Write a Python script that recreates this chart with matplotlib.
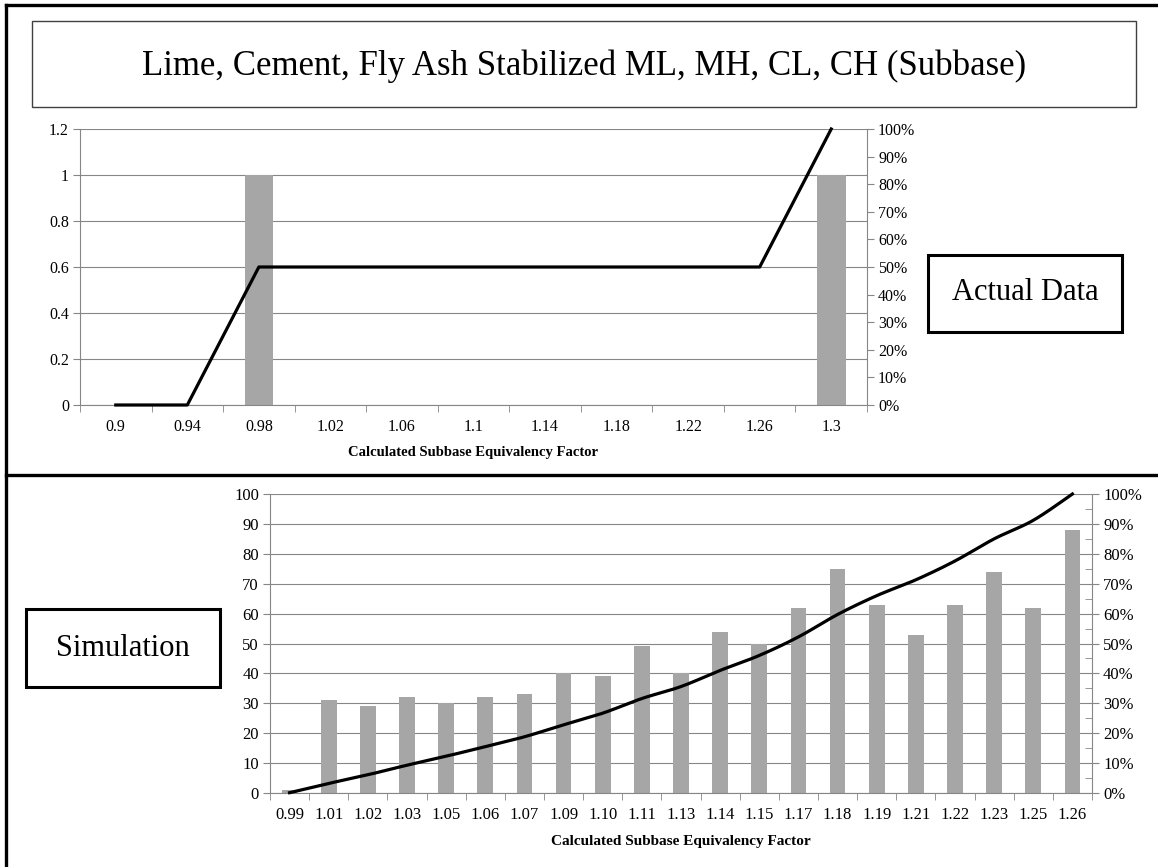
import numpy as np
import matplotlib
matplotlib.use("Agg")
import matplotlib.pyplot as plt
from matplotlib.patches import Rectangle
from matplotlib.lines import Line2D
from matplotlib.ticker import PercentFormatter, MultipleLocator

W, H = 1158, 867

title = "Lime, Cement, Fly Ash Stabilized ML, MH, CL, CH (Subbase)"
xlabel = "Calculated Subbase Equivalency Factor"

# actual data histogram
actual_bins = ["0.9", "0.94", "0.98", "1.02", "1.06", "1.1", "1.14",
               "1.18", "1.22", "1.26", "1.3"]
actual_counts = [0, 0, 1, 0, 0, 0, 0, 0, 0, 0, 1]

# simulation histogram
sim_bins = ["0.99", "1.01", "1.02", "1.03", "1.05", "1.06", "1.07", "1.09",
            "1.10", "1.11", "1.13", "1.14", "1.15", "1.17", "1.18", "1.19",
            "1.21", "1.22", "1.23", "1.25", "1.26"]
sim_counts = [1, 31, 29, 32, 30, 32, 33, 40, 39, 49, 40, 54, 50, 62, 75,
              63, 53, 63, 74, 62, 88]

plt.rcParams["font.family"] = ["Liberation Serif", "DejaVu Serif"]

BAR = "#a6a6a6"
AXC = "#868686"


def fx(x):
    return x / W


def fy(y):
    return 1 - y / H


def smooth(x, y, n=24):
    # Excel style smoothed line (Catmull-Rom bezier)
    pts = np.column_stack([x, y]).astype(float)
    p = np.vstack([pts[0], pts, pts[-1]])
    t = np.linspace(0, 1, n)[:, None]
    segs = []
    for i in range(1, len(p) - 2):
        p0, p1, p2, p3 = p[i - 1], p[i], p[i + 1], p[i + 2]
        c1 = p1 + (p2 - p0) / 6
        c2 = p2 - (p3 - p1) / 6
        segs.append((1 - t) ** 3 * p1 + 3 * (1 - t) ** 2 * t * c1
                    + 3 * (1 - t) * t ** 2 * c2 + t ** 3 * p2)
    out = np.vstack(segs)
    return out[:, 0], out[:, 1]


def pareto(rect, bins, counts, ymax, ystep, fs, labelpad, smoothed, minor_right):
    ax = fig.add_axes(rect)
    n = len(bins)
    x = np.arange(n)
    ax.bar(x, counts, width=0.4, color=BAR, zorder=2)
    ax.set_xlim(-0.5, n - 0.5)
    ax.set_ylim(0, ymax)
    ax.yaxis.set_major_locator(MultipleLocator(ystep))
    ax.yaxis.set_major_formatter(plt.FuncFormatter(lambda v, p: f"{v:g}"))
    ax.grid(axis="y", color=AXC, linewidth=0.8, zorder=0)
    ax.set_axisbelow(True)
    ax.set_xticks(x)
    ax.set_xticklabels(bins, fontsize=fs)
    ax.set_xticks(np.arange(n + 1) - 0.5, minor=True)
    ax.tick_params(axis="x", which="major", length=0, pad=10)
    ax.tick_params(axis="x", which="minor", length=5, color=AXC)
    ax.tick_params(axis="y", length=5, color=AXC, labelsize=fs, pad=3)
    for s in ["top", "right"]:
        ax.spines[s].set_visible(False)
    for s in ["left", "bottom"]:
        ax.spines[s].set_color(AXC)
        ax.spines[s].set_linewidth(0.8)
    ax.set_xlabel(xlabel, fontsize=fs - 1, fontweight="bold", labelpad=labelpad)

    ax2 = ax.twinx()
    cum = np.cumsum(counts) / np.sum(counts)
    if smoothed:
        sx, sy = smooth(x, cum)
    else:
        sx, sy = x, cum
    ax2.plot(sx, sy, color="black", linewidth=2.3, zorder=3, clip_on=False)
    ax2.set_ylim(0, 1)
    ax2.set_xlim(-0.5, n - 0.5)
    ax2.yaxis.set_major_locator(MultipleLocator(0.1))
    ax2.yaxis.set_major_formatter(PercentFormatter(1, decimals=0))
    ax2.tick_params(axis="y", length=5, color=AXC, labelsize=fs, pad=3)
    if minor_right:
        ax2.yaxis.set_minor_locator(MultipleLocator(0.05))
        ax2.tick_params(axis="y", which="minor", direction="in", length=5, color=AXC)
    for s in ["top", "left", "bottom"]:
        ax2.spines[s].set_visible(False)
    ax2.spines["right"].set_color(AXC)
    ax2.spines["right"].set_linewidth(0.8)
    return ax, ax2


fig = plt.figure(figsize=(W / 100, H / 100), dpi=100)

# frame lines of the table cell
fig.add_artist(Line2D([fx(6), fx(6)], [fy(5), 0], color="black", linewidth=2.4))
fig.add_artist(Line2D([fx(6), 1], [fy(5), fy(5)], color="black", linewidth=2.4))
fig.add_artist(Line2D([fx(6), 1], [fy(475), fy(475)], color="black", linewidth=2.4))

# title box
fig.add_artist(Rectangle((fx(32), fy(107)), fx(1136 - 32), (107 - 21) / H,
                         fill=False, edgecolor="#404040", linewidth=1.0))
fig.text(fx(584), fy(66), title, fontsize=25, ha="center", va="center")

# top: actual data
pareto([fx(80), fy(405), fx(867 - 80), (405 - 129) / H], actual_bins,
       actual_counts, 1.2, 0.2, 11.5, 8, False, False)

fig.add_artist(Rectangle((fx(928), fy(332)), fx(1122 - 928), (332 - 255) / H,
                         fill=False, edgecolor="black", linewidth=2.2))
fig.text(fx(1025), fy(293), "Actual Data", fontsize=22, ha="center", va="center")

# bottom: simulation
pareto([fx(270), fy(793), fx(1092 - 270), (793 - 494) / H], sim_bins,
       sim_counts, 100, 10, 12, 9, True, True)

fig.add_artist(Rectangle((fx(26), fy(687)), fx(220 - 26), (687 - 609) / H,
                         fill=False, edgecolor="black", linewidth=2.2))
fig.text(fx(123), fy(648), "Simulation", fontsize=22, ha="center", va="center")

fig.savefig("out.png", dpi=100)
